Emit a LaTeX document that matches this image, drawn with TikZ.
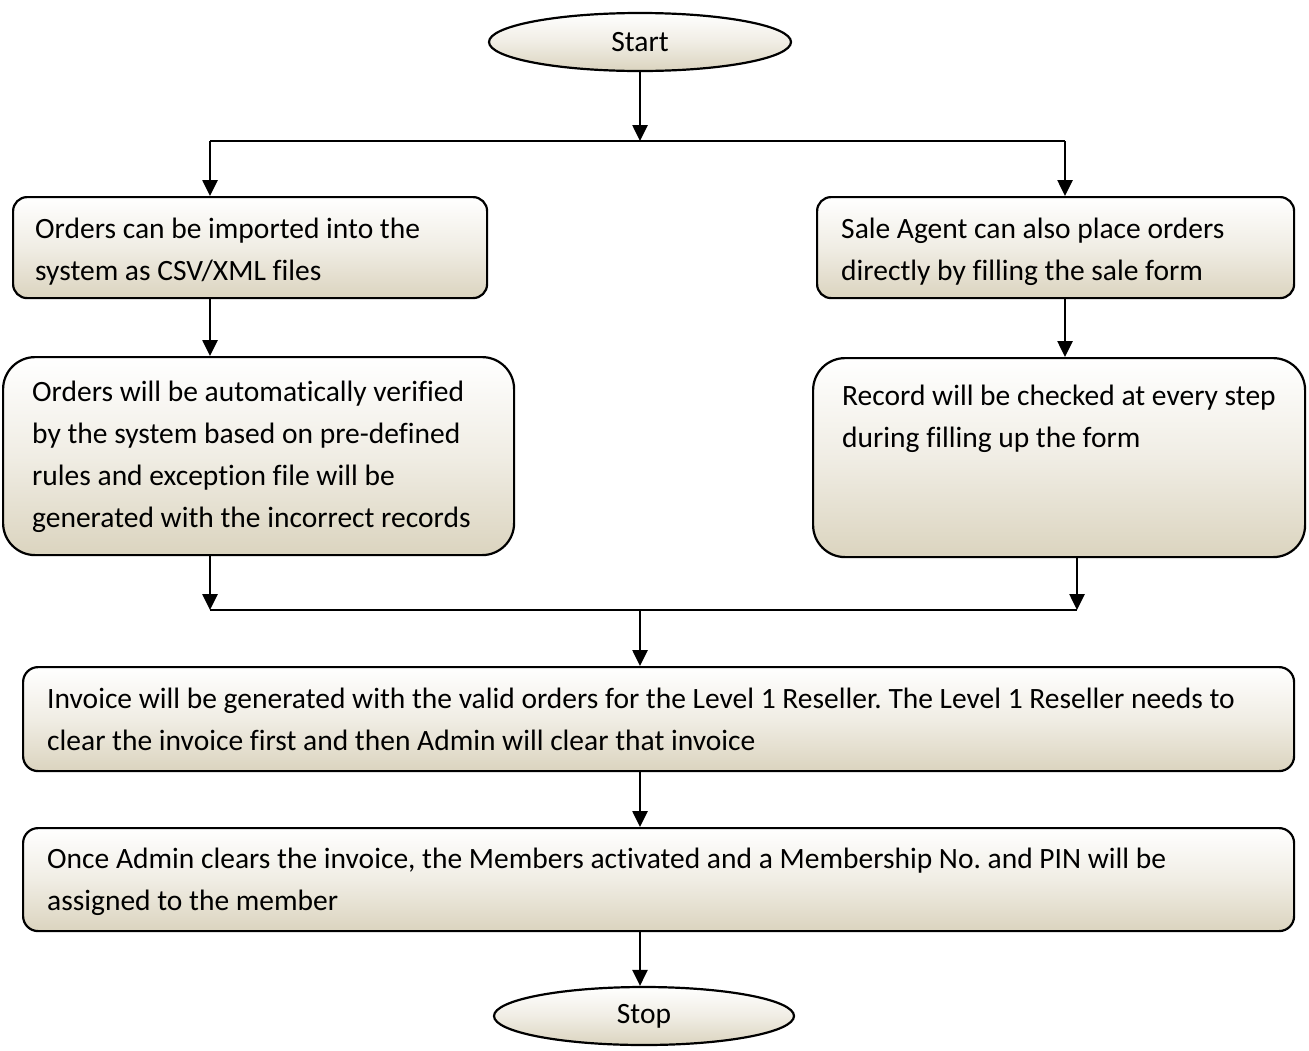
\documentclass[tikz,border=0pt]{standalone}
\usepackage{fontspec}
\setmainfont[Ligatures=CommonOff]{Carlito}
\frenchspacing
\usetikzlibrary{arrows.meta,shapes.geometric}
\definecolor{beige}{RGB}{219,212,191}
\definecolor{beigemid}{RGB}{240,237,228}
\tikzset{
  shade box/.style={draw=black, line width=2.2pt, top color=white, bottom color=beige, middle color=beigemid},
  flowbox/.style={shade box, rectangle, anchor=north west, inner sep=0pt},
  term/.style={shade box, ellipse, inner sep=0pt, font=\fontsize{29.5}{34}\selectfont},
  txt/.style={anchor=base west, align=left, inner sep=0pt, font=\fontsize{29.5}{42}\selectfont},
  arr/.style={line width=2.6pt, -{Triangle[length=16pt,width=15pt]}},
  ln/.style={line width=2.6pt}
}
\begin{document}
\begin{tikzpicture}[x=1pt,y=-1pt]
\useasboundingbox[fill=white] (0,0) rectangle (1309,1050);
% terminals
\node[term, minimum width=302pt, minimum height=58pt] (start) at (640,42) {Start};
\node[term, minimum width=300pt, minimum height=58pt] (stop) at (644,1016) {Stop};
% boxes
\node[flowbox, rounded corners=14pt, minimum width=474pt, minimum height=101pt] (A) at (12,196) {};
\node[flowbox, rounded corners=14pt, minimum width=477pt, minimum height=101pt] (B) at (816,196) {};
\node[flowbox, rounded corners=32pt, minimum width=511pt, minimum height=198pt] (C) at (2,356) {};
\node[flowbox, rounded corners=32pt, minimum width=492pt, minimum height=199pt] (D) at (812,357) {};
\node[flowbox, rounded corners=15pt, minimum width=1271pt, minimum height=104pt] (E) at (22,666) {};
\node[flowbox, rounded corners=15pt, minimum width=1271pt, minimum height=103pt] (F) at (22,827) {};
% texts (anchored at the baseline of the last line)
\node[txt] (At) at (35,280) {Orders can be imported into the\\system as CSV/XML files};
\node[txt] (Bt) at (841,280) {Sale Agent can also place orders\\directly by filling the sale form};
\node[txt] (Ct) at (32,527) {Orders will be automatically verified\\by the system based on pre-defined\\rules and exception file will be\\generated with the incorrect records};
\node[txt] (Dt) at (842,447) {Record will be checked at every step\\during filling up the form};
\node[txt] (Et) at (47,750) {Invoice will be generated with the valid orders for the Level 1 Reseller. The Level 1 Reseller needs to\\clear the invoice first and then Admin will clear that invoice};
\node[txt] (Ft) at (47,910) {Once Admin clears the invoice, the Members activated and a Membership No. and PIN will be\\assigned to the member};
% junction points
\coordinate (j1) at (640,141);
\coordinate (jl) at (210,141);
\coordinate (jr) at (1065,141);
\coordinate (k1) at (210,610);
\coordinate (k2) at (1077,610);
\coordinate (k0) at (640,610);
% connectors
\draw[arr] (start.south -| j1) -- (j1);
\draw[ln] (jl) -- (jr);
\draw[arr] (jl) -- (jl |- A.north);
\draw[arr] (jr) -- (jr |- B.north);
\draw[arr] (A.south -| jl) -- (C.north -| jl);
\draw[arr] (B.south -| jr) -- (D.north -| jr);
\draw[arr] (C.south -| k1) -- (k1);
\draw[arr] (D.south -| k2) -- (k2);
\draw[ln] (k1) -- (k2);
\draw[arr] (k0) -- (E.north -| k0);
\draw[arr] (E.south -| k0) -- (F.north -| k0);
\draw[arr] (F.south -| k0) -- (stop.north -| k0);
\end{tikzpicture}
\end{document}
